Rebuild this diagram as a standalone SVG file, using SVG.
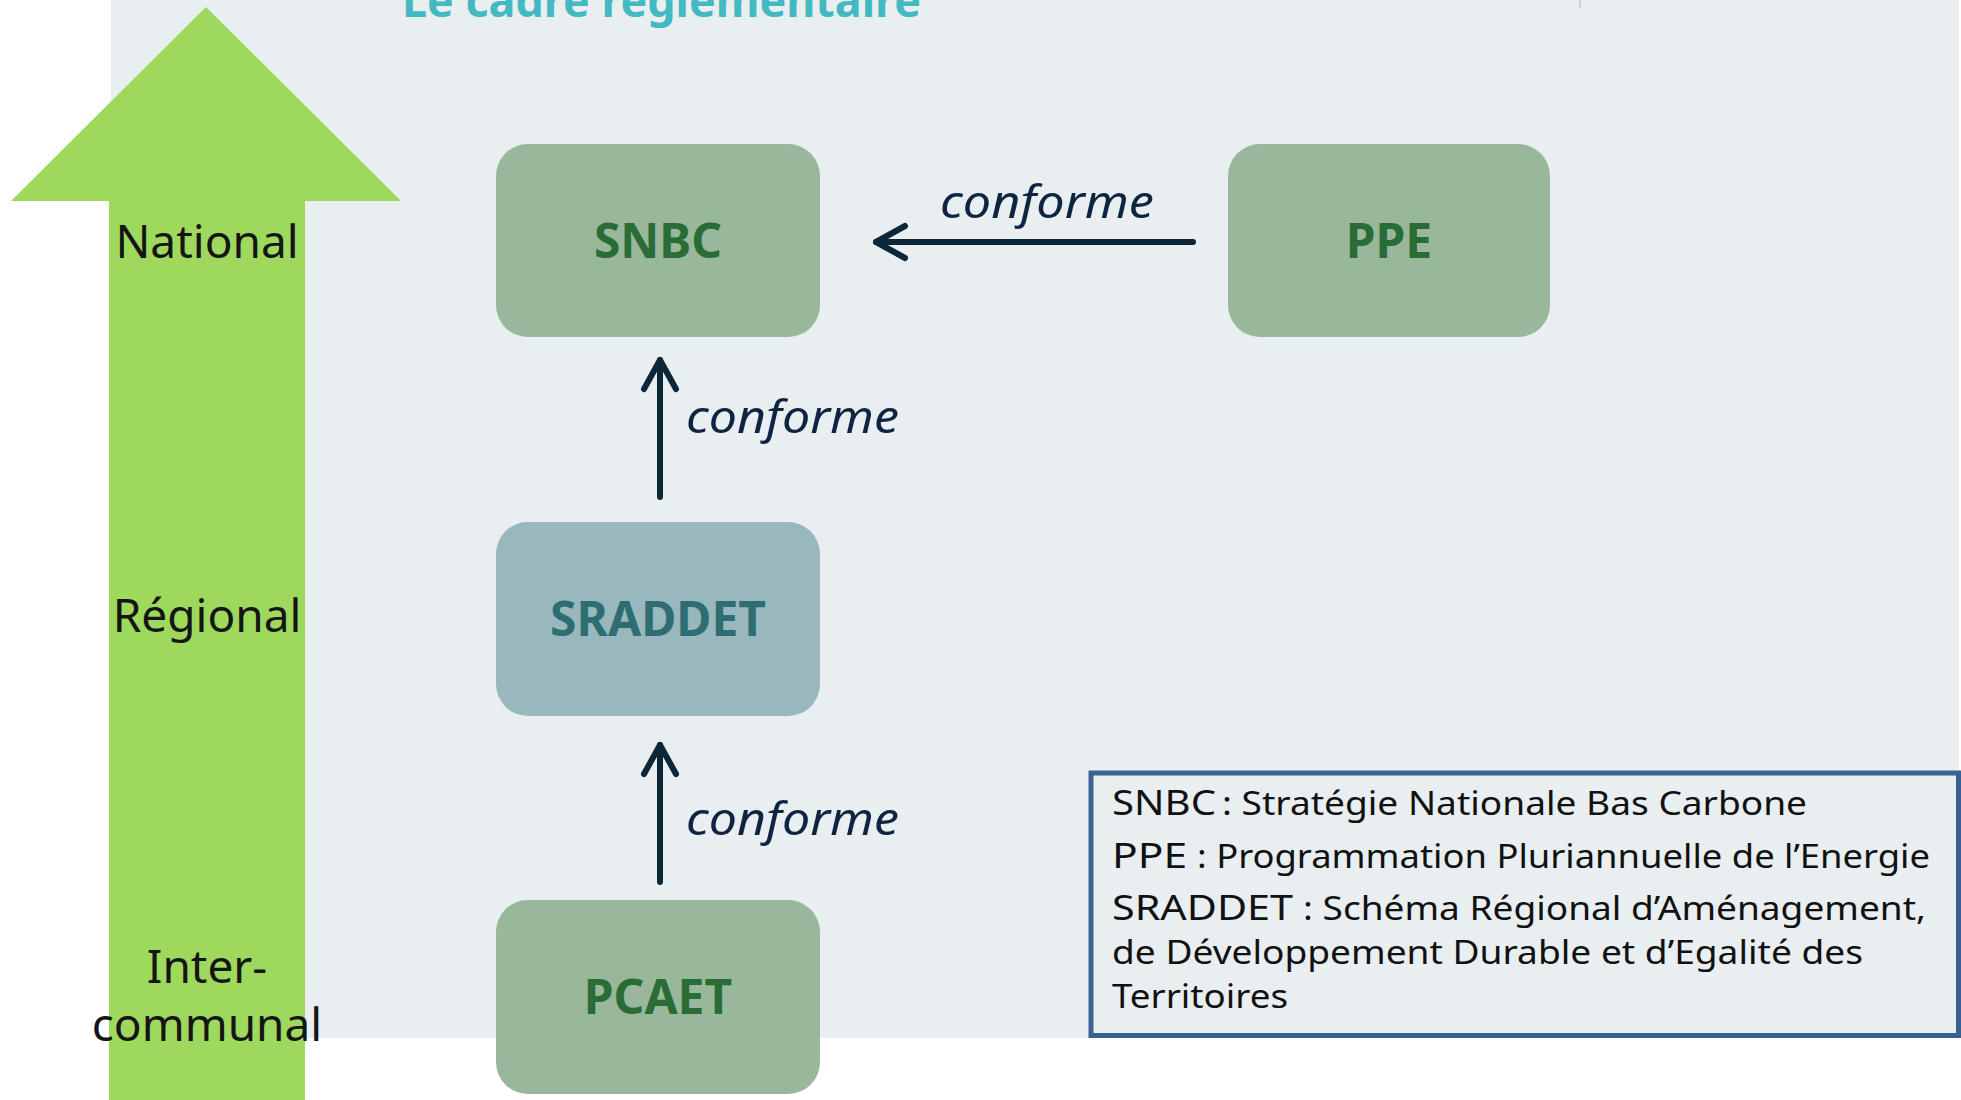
<svg xmlns="http://www.w3.org/2000/svg" width="1961" height="1100" viewBox="0 0 1961 1100">
<defs>
<style>
.box-g{fill:#99B79B}
.box-b{fill:#98B8BD}
.lbl{font-family:"Noto Sans","Open Sans",sans-serif;font-weight:700;font-size:48px;text-anchor:middle}
.lvl{font-family:"Noto Sans","Open Sans",sans-serif;font-size:46px;fill:#151515;text-anchor:middle}
.conf{font-family:"Noto Sans","Open Sans",sans-serif;font-style:italic;font-size:46px;fill:#0E2440}
.conn{stroke:#0C2838;stroke-width:6;fill:none;stroke-linecap:round}
.abbr{font-family:"Noto Sans","Open Sans",sans-serif;font-size:35px;fill:#111}
.def{font-family:"Noto Sans","Open Sans",sans-serif;font-size:32px;fill:#111}
</style>
<marker id="chev" markerUnits="userSpaceOnUse" markerWidth="44" markerHeight="44" refX="30" refY="18" orient="auto" overflow="visible">
<path d="M1,2 L30,18 L1,34" fill="none" stroke="#0C2838" stroke-width="6" stroke-linecap="round" stroke-linejoin="round"/>
</marker>
</defs>
<rect width="1961" height="1100" fill="#FFFFFF"/>
<rect x="111" y="0" width="1848" height="1038" fill="#E9EEF1"/>
<line x1="1580" y1="0" x2="1580" y2="8" stroke="#C4C8CB" stroke-width="1.5"/>
<text x="402" y="17" font-family="Noto Sans, Open Sans, sans-serif" font-weight="700" font-size="44" fill="#43B9C1" textLength="519" lengthAdjust="spacingAndGlyphs">Le cadre réglementaire</text>

<g id="level-arrow">
<polygon points="206,7 401,201 305,201 305,1100 109,1100 109,201 11,201" fill="#9ED85C"/>
<text class="lvl" x="207" y="258">National</text>
<text class="lvl" x="207" y="632">Régional</text>
<text class="lvl" x="207" y="983">Inter-</text>
<text class="lvl" x="207" y="1041">communal</text>
</g>

<g id="node-snbc">
<rect class="box-g" x="496" y="144" width="324" height="193" rx="32"/>
<text class="lbl" x="658" y="258" fill="#2A6C35">SNBC</text>
</g>
<g id="node-ppe">
<rect class="box-g" x="1228" y="144" width="322" height="193" rx="32"/>
<text class="lbl" x="1389" y="258" fill="#2A6C35">PPE</text>
</g>
<g id="node-sraddet">
<rect class="box-b" x="496" y="522" width="324" height="194" rx="32"/>
<text class="lbl" x="658" y="636" fill="#2E6E73">SRADDET</text>
</g>
<g id="node-pcaet">
<rect class="box-g" x="496" y="900" width="324" height="194" rx="32"/>
<text class="lbl" x="658" y="1014" fill="#2A6C35">PCAET</text>
</g>

<g id="connectors">
<line class="conn" x1="1193" y1="242" x2="876" y2="242" marker-end="url(#chev)"/>
<line class="conn" x1="660" y1="497" x2="660" y2="360" marker-end="url(#chev)"/>
<line class="conn" x1="660" y1="882" x2="660" y2="745" marker-end="url(#chev)"/>
<text class="conf" x="940" y="218" textLength="214" lengthAdjust="spacingAndGlyphs">conforme</text>
<text class="conf" x="686" y="433" textLength="213" lengthAdjust="spacingAndGlyphs">conforme</text>
<text class="conf" x="686" y="835" textLength="213" lengthAdjust="spacingAndGlyphs">conforme</text>
</g>

<g id="legend">
<rect x="1091" y="773" width="867.5" height="262.5" fill="#E9EEF1" stroke="#3C5F94" stroke-width="5"/>
<text class="abbr" x="1112" y="815" textLength="104" lengthAdjust="spacingAndGlyphs">SNBC</text>
<text class="def" x="1222" y="815" textLength="585" lengthAdjust="spacingAndGlyphs">: Stratégie Nationale Bas Carbone</text>
<text class="abbr" x="1112" y="868" textLength="75" lengthAdjust="spacingAndGlyphs">PPE</text>
<text class="def" x="1197" y="868" textLength="733" lengthAdjust="spacingAndGlyphs">: Programmation Pluriannuelle de l’Energie</text>
<text class="abbr" x="1112" y="920" textLength="181" lengthAdjust="spacingAndGlyphs">SRADDET</text>
<text class="def" x="1303" y="920" textLength="623" lengthAdjust="spacingAndGlyphs">: Schéma Régional d’Aménagement,</text>
<text class="def" x="1112" y="964" textLength="751" lengthAdjust="spacingAndGlyphs">de Développement Durable et d’Egalité des</text>
<text class="def" x="1112" y="1008" textLength="176" lengthAdjust="spacingAndGlyphs">Territoires</text>
</g>
</svg>
